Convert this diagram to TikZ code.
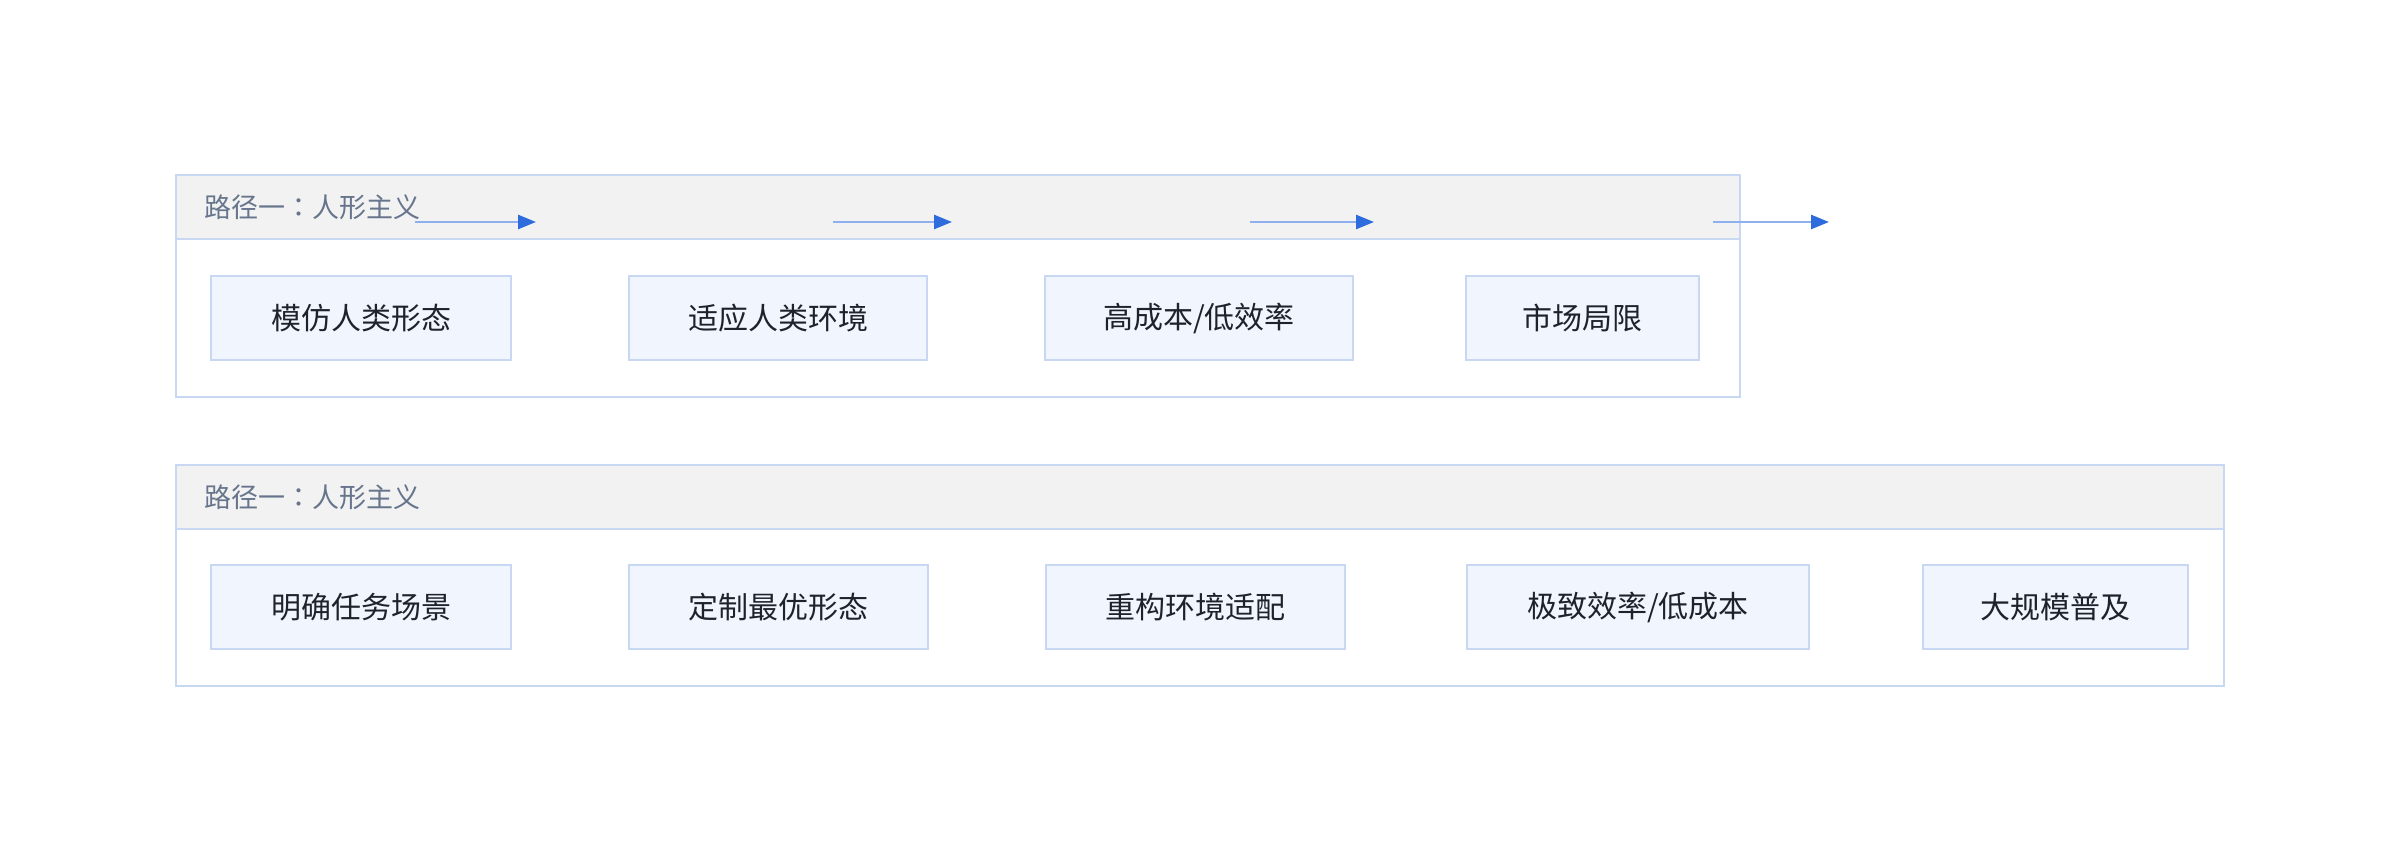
\documentclass[tikz,border=0pt]{standalone}
\usepackage{fontspec}
\setmainfont{Noto Sans CJK SC}
\newfontfamily\colonfont{Noto Sans CJK JP}
\usepackage{tikz}
\usetikzlibrary{positioning,arrows.meta}
\definecolor{laneline}{HTML}{C8D7F2}
\definecolor{headfill}{HTML}{F2F2F2}
\definecolor{stepfill}{HTML}{F0F5FE}
\definecolor{titlegray}{HTML}{66758C}
\definecolor{textdark}{HTML}{1F2329}
\definecolor{flowline}{HTML}{8FB0EE}
\definecolor{flowhead}{HTML}{2E6BDC}
\tikzset{
  lanebox/.style={draw=laneline, line width=1.2pt, fill=white, inner sep=0pt, outer sep=0pt, anchor=north west},
  lanehead/.style={draw=laneline, line width=1.2pt, fill=headfill, inner sep=0pt, outer sep=0pt, minimum height=32pt, anchor=north west},
  lanetitle/.style={text=titlegray, font=\fontsize{13.5}{16}\selectfont, inner sep=0pt, anchor=west},
  stepbox/.style={draw=laneline, line width=1pt, fill=stepfill, text=textdark, inner sep=0pt, outer sep=0pt,
    minimum height=42pt, font=\fontsize{15}{18}\selectfont},
  flow/.style={draw=flowline, line width=1.3pt, -{Triangle[length=9pt,width=7pt,color=flowhead]}},
}

\begin{document}
\begin{tikzpicture}[x=0.5pt,y=-0.5pt]
   \useasboundingbox (0,0) rectangle (2400,862);
   % lane 1
   \node[lanebox, minimum width=782pt, minimum height=111pt] (lane1) at (176,175) {};
   \node[lanehead, minimum width=782pt] (head1) at (lane1.north west) {};
   \node[lanetitle] (title1) at ([xshift=14pt]head1.west) {路径一{\colonfont ：}人形主义};
   \node[stepbox, minimum width=150pt, anchor=west] (n1) at (211,318) {模仿人类形态};
   \node[stepbox, minimum width=149pt, right=59pt of n1] (n2) {适应人类环境};
   \node[stepbox, minimum width=154pt, right=59pt of n2] (n3) {高成本/低效率};
   \node[stepbox, minimum width=116.5pt, right=56.5pt of n3] (n4) {市场局限};
   % lane 2
   \node[lanebox, minimum width=1024pt, minimum height=110.5pt] (lane2) at (176,465) {};
   \node[lanehead, minimum width=1024pt] (head2) at (lane2.north west) {};
   \node[lanetitle] (title2) at ([xshift=14pt]head2.west) {路径一{\colonfont ：}人形主义};
   \node[stepbox, minimum width=150pt, anchor=west] (m1) at (211,607) {明确任务场景};
   \node[stepbox, minimum width=149.5pt, right=59pt of m1] (m2) {定制最优形态};
   \node[stepbox, minimum width=149.5pt, right=59pt of m2] (m3) {重构环境适配};
   \node[stepbox, minimum width=171pt, right=61pt of m3] (m4) {极致效率/低成本};
   \node[stepbox, minimum width=132.5pt, right=57pt of m4] (m5) {大规模普及};
   % loose arrows in the header band
   \coordinate (s1) at (415,222);  \coordinate (e1) at (536,222);
   \coordinate (s2) at (833,222);  \coordinate (e2) at (952,222);
   \coordinate (s3) at (1250,222); \coordinate (e3) at (1374,222);
   \coordinate (s4) at (1713,222); \coordinate (e4) at (1829,222);
    \path
    (s1) edge[flow] (e1)
    (s2) edge[flow] (e2)
    (s3) edge[flow] (e3)
    (s4) edge[flow] (e4);
\end{tikzpicture}
\end{document}
